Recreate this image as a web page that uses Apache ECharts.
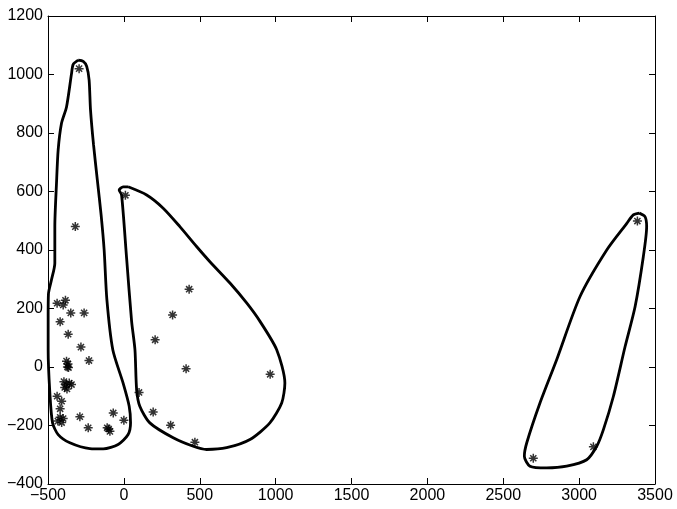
<!DOCTYPE html>
<html>
<head>
<meta charset="utf-8">
<script src="https://cdn.jsdelivr.net/npm/echarts@6/dist/echarts.min.js"></script>
<style>html,body{margin:0;padding:0;background:#fff}#c{width:677px;height:509px}</style>
</head>
<body>
<div id="c"></div>
<script>
// Scatter points (asterisks)
const pointsX = [-295,-320,10,-440,-385,-400,-350,-262,-420,-367,-283,-230,
  -378,-368,-372,-365,
  -395,-380,-360,-375,-345,-390,
  -440,-410,-420,-420,-400,-435,-410,
  -290,-235,-70,-110,-92,-100,0,100,193,308,468,430,321,206,410,964,
  3384,3094,2698];
const pointsY = [1020,480,587,218,228,212,185,185,155,112,68,22,
  20,10,0,-2,
  -50,-60,-55,-75,-60,-70,
  -100,-117,-143,-172,-176,-185,-190,
  -170,-208,-157,-208,-220,-212,-182,-87,-154,-199,-257,266,178,93,-6,-25,
  499,-273,-312];

// Outline 1 (tall left), clockwise from top
const hull1X = [-301,-268,-245,-229,-220,-200,-175,-150,-130,-112,-73,-5,35,44,28,-38,-136,-224,-356,-433,-470,-488,-499,-499,-497,-477,-455,-455,-444,-433,-411,-378,-345,-334];
const hull1Y = [1049,1045,1028,981,880,760,640,520,400,230,59,-55,-134,-191,-231,-265,-280,-279,-259,-231,-191,-87,59,173,250,298,355,480,628,742,833,889,1003,1035];

// Outline 2 (middle), clockwise from top
const hull2X = [28,150,259,369,479,567,699,809,897,1007,1061,1040,962,831,677,545,457,325,171,105,84,73,51,18,-15,-31,-5];
const hull2Y = [616,588,543,480,412,360,287,219,156,59,-55,-123,-191,-248,-276,-282,-271,-242,-191,-134,-77,59,156,372,588,605,616];

// Outline 3 (right), clockwise from top
const hull3X = [3397,3434,3445,3423,3369,3303,3226,3160,3116,3050,2918,2786,2676,2639,2655,2742,2852,3006,3182,3314,3357];
const hull3Y = [526,514,480,377,207,70,-100,-214,-271,-317,-339,-345,-339,-305,-259,-123,25,241,400,491,520];

const xMin = -500, xMax = 3500, xStep = 500;
const yMin = -400, yMax = 1200, yStep = 200;

function pairs(xs, ys, close) {
  const d = xs.map((x, i) => [x, ys[i]]);
  if (close) d.push(d[0]);
  return d;
}

const font = '"Liberation Sans", Arial, Helvetica, sans-serif';
const axisBase = {
  type: 'value',
  axisLine: { show: true, onZero: false, lineStyle: { color: '#000', width: 1 } },
  axisTick: { show: true, inside: true, length: 6, lineStyle: { color: '#000', width: 1 } },
  splitLine: { show: false },
};
const fmt = v => String(v).replace('-', '\u2212');

const chart = echarts.init(document.getElementById('c'), null, { renderer: 'canvas' });
const hullStyle = { color: '#000', width: 2.8 };
chart.setOption({
  animation: false,
  backgroundColor: '#fff',
  grid: { left: 48, right: 22, top: 16, bottom: 25, containLabel: false },
  xAxis: [
    Object.assign({}, axisBase, { min: xMin, max: xMax, interval: xStep, position: 'bottom',
      axisLabel: { color: '#000', fontSize: 16, fontFamily: font, margin: 4, formatter: fmt } }),
    Object.assign({}, axisBase, { min: xMin, max: xMax, interval: xStep, position: 'top',
      axisLabel: { show: false } })
  ],
  yAxis: [
    Object.assign({}, axisBase, { min: yMin, max: yMax, interval: yStep, position: 'left',
      axisLabel: { color: '#000', fontSize: 16, fontFamily: font, margin: 5, formatter: fmt } }),
    Object.assign({}, axisBase, { min: yMin, max: yMax, interval: yStep, position: 'right',
      axisLabel: { show: false } })
  ],
  series: [
    { type: 'line', data: pairs(hull1X, hull1Y, true), smooth: 0.25, showSymbol: false, lineStyle: hullStyle, z: 2 },
    { type: 'line', data: pairs(hull2X, hull2Y, true), smooth: 0.25, showSymbol: false, lineStyle: hullStyle, z: 2 },
    { type: 'line', data: pairs(hull3X, hull3Y, true), smooth: 0.25, showSymbol: false, lineStyle: hullStyle, z: 2 },
    { type: 'scatter', data: pairs(pointsX, pointsY, false),
      symbol: 'path://M0,5L10,5M5,0L5,10M1.6,1.6L8.4,8.4M8.4,1.6L1.6,8.4',
      symbolSize: 9,
      itemStyle: { color: '#000', borderColor: '#000', borderWidth: 1.5 }, z: 3 }
  ]
});
</script>
</body>
</html>
